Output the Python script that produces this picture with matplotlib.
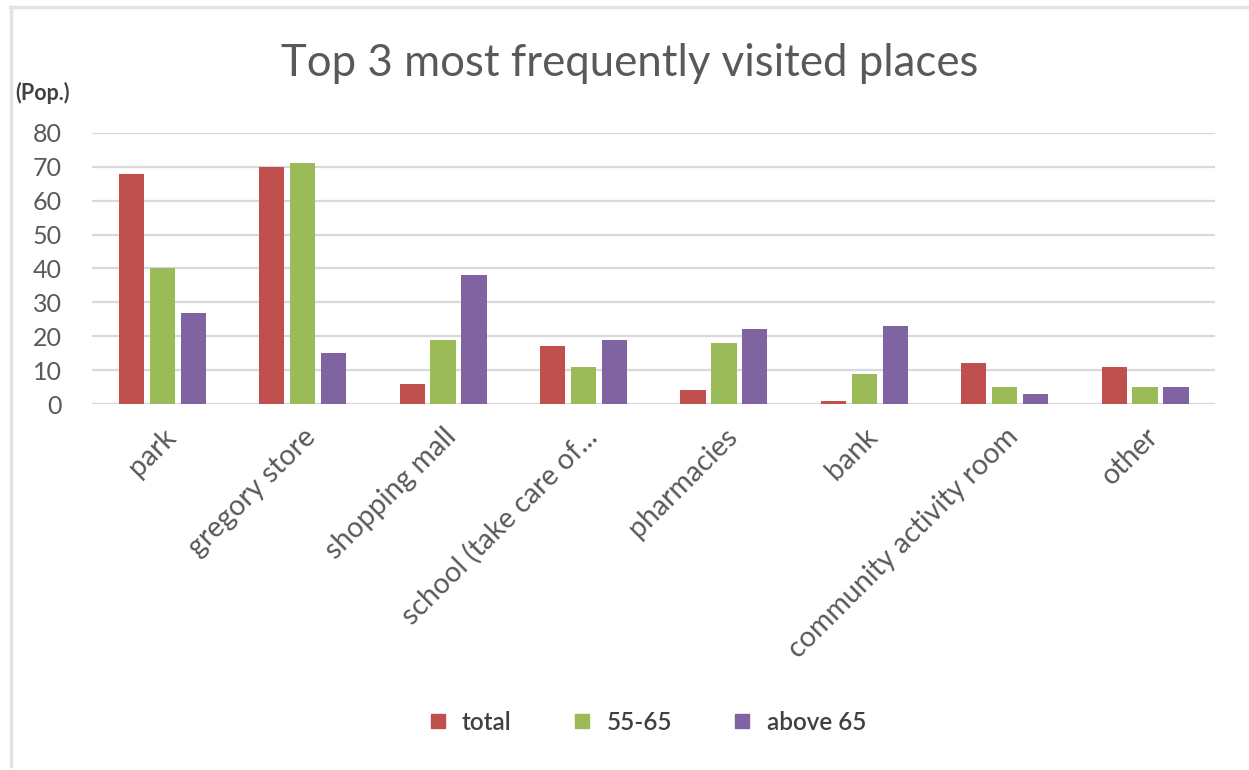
import numpy as np
import matplotlib
matplotlib.use("Agg")
import matplotlib.pyplot as plt
from matplotlib.lines import Line2D

plt.rcParams['font.family'] = ['Lato', 'DejaVu Sans']

# survey counts per place and age group
places = ['park', 'gregory store', 'shopping mall', 'school (take care of...',
          'pharmacies', 'bank', 'community activity room', 'other']
total = [68, 70, 6, 17, 4, 1, 12, 11]
age_55_65 = [40, 71, 19, 11, 18, 9, 5, 5]
above_65 = [27, 15, 38, 19, 22, 23, 3, 5]
series_names = ['total', '55-65', 'above 65']
colors = ['#C0504D', '#9BBB59', '#8064A2']
yticks = [0, 10, 20, 30, 40, 50, 60, 70, 80]

fig = plt.figure(figsize=(12.49, 7.7), dpi=100)
ax = fig.add_axes([0.0737, 0.4753, 0.8993, 0.352])

x = np.arange(len(places))
width = 0.18
step = 0.22
for i, (vals, c) in enumerate(zip([total, age_55_65, above_65], colors)):
    ax.bar(x + (i - 1) * step, vals, width, color=c, zorder=3)

ax.set_xlim(-0.5, len(places) - 0.5)
ax.set_ylim(0, 80)
ax.set_yticks(yticks)
ax.yaxis.grid(True, color='#D9D9D9', linewidth=1.6, zorder=0)
ax.axhline(0, color='#D9D9D9', linewidth=1.6, zorder=1)
for s in ax.spines.values():
    s.set_visible(False)
ax.tick_params(axis='y', length=0, pad=22, labelsize=18, labelcolor='#595959')
ax.tick_params(axis='x', length=0, pad=14)
ax.set_xticks(x)
ax.set_xticklabels(places, rotation=45, ha='right', rotation_mode='anchor',
                   fontsize=20.5, color='#595959')

fig.text(0.504, 0.917, 'Top 3 most frequently visited places', ha='center',
         va='center', fontsize=31.5, color='#595959')
fig.text(0.012, 0.879, '(Pop.)', ha='left', va='center', fontsize=15.5,
         fontweight='bold', color='#404040')

handles = [Line2D([], [], marker='s', linestyle='none', markersize=10,
                  markerfacecolor=c, markeredgecolor=c) for c in colors]
fig.legend(handles, series_names, loc='center', bbox_to_anchor=(0.516, 0.062),
           ncol=3, frameon=False, columnspacing=2.3, handlelength=1.2,
           handletextpad=0.4, labelcolor='#404040',
           prop={'weight': 'semibold', 'size': 17.5})

# light frame around the chart area
fig.add_artist(Line2D([0.008, 1.0], [0.991, 0.991], color='#E3E3E3', linewidth=2.5,
                      transform=fig.transFigure))
fig.add_artist(Line2D([0.009, 0.009], [0.005, 0.991], color='#E3E3E3', linewidth=2.5,
                      transform=fig.transFigure))

fig.savefig('out.png', dpi=100, facecolor='white')
